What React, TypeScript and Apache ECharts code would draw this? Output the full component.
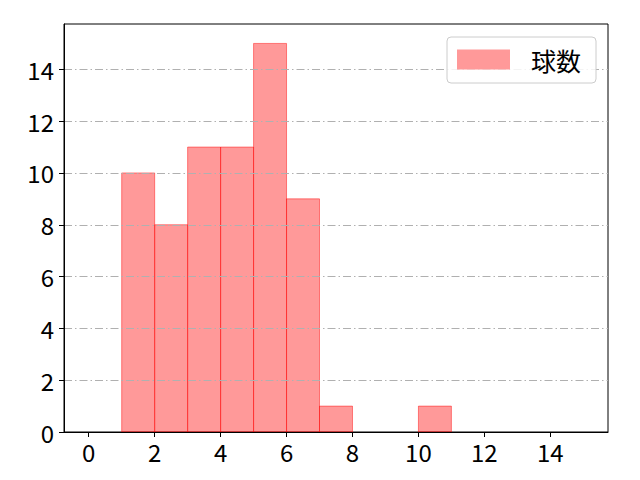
import React, { useEffect, useRef } from "react";
import * as echarts from "echarts";

const binStarts = [1, 2, 3, 4, 5, 6, 7, 10];
const binWidth = 1;
const counts = [10, 8, 11, 11, 15, 9, 1, 1];
const xTicks = [0, 2, 4, 6, 8, 10, 12, 14];
const yTicks = [0, 2, 4, 6, 8, 10, 12, 14];
const seriesName = "球数";

const FONT = "'Noto Sans CJK JP', 'Noto Sans', sans-serif";

export default function App() {
  const ref = useRef<HTMLDivElement>(null);
  useEffect(() => {
    if (!ref.current) return;
    const chart = echarts.init(ref.current, null, { renderer: "svg" });
    const data = binStarts.map((s, i) => [s, s + binWidth, counts[i]]);
    chart.setOption({
      animation: false,
      grid: {
        left: 64,
        top: 24,
        width: 544,
        height: 408,
        show: true,
        borderColor: "#000",
        borderWidth: 1,
        backgroundColor: "transparent",
      },
      legend: {
        left: 447,
        top: 37,
        z: 20,
        orient: "horizontal",
        itemWidth: 53,
        itemHeight: 20,
        padding: [10, 15, 11, 10],
        backgroundColor: "rgba(255,255,255,0.85)",
        borderColor: "#cccccc",
        borderWidth: 1,
        borderRadius: 4,
        icon: "rect",
        textStyle: {
          fontFamily: FONT,
          fontSize: 25,
          color: "#000",
          lineHeight: 24,
          padding: [0, 0, 0, 16],
        },
        data: [seriesName],
      },
      xAxis: {
        type: "value",
        min: -0.75,
        max: 15.75,
        z: 10,
        axisLine: { show: true, onZero: false, lineStyle: { color: "#000", width: 1 } },
        axisTick: {
          show: true,
          inside: false,
          length: 5,
          lineStyle: { color: "#000" },
          customValues: xTicks,
        },
        axisLabel: {
          customValues: xTicks,
          fontFamily: FONT,
          fontSize: 24,
          color: "#000",
          margin: 7,
        },
        splitLine: { show: false },
      },
      yAxis: {
        type: "value",
        min: 0,
        max: 15.75,
        z: 10,
        axisLine: { show: true, onZero: false, lineStyle: { color: "#000", width: 1 } },
        axisTick: {
          show: true,
          inside: false,
          length: 5,
          lineStyle: { color: "#000" },
          customValues: yTicks,
        },
        axisLabel: {
          customValues: yTicks,
          fontFamily: FONT,
          fontSize: 24,
          color: "#000",
          margin: 10,
        },
        splitLine: {
          show: true,
          lineStyle: { color: "#b0b0b0", width: 1, type: [8, 3, 1.5, 3] },
        },
      },
      series: [
        {
          name: seriesName,
          type: "custom",
          itemStyle: { color: "rgba(255,0,0,0.4)", borderColor: "rgba(255,0,0,0.45)" },
          renderItem: (params: any, api: any) => {
            const x0 = api.value(0);
            const x1 = api.value(1);
            const y = api.value(2);
            const p0 = api.coord([x0, y]);
            const p1 = api.coord([x1, 0]);
            return {
              type: "rect",
              shape: { x: p0[0], y: p0[1], width: p1[0] - p0[0], height: p1[1] - p0[1] },
              style: {
                fill: "rgba(255,0,0,0.4)",
                stroke: "rgba(255,0,0,0.45)",
                lineWidth: 1,
              },
            };
          },
          encode: { x: [0, 1], y: 2 },
          data,
        },
      ],
    });
    return () => chart.dispose();
  }, []);
  return (
    <div
      ref={ref}
      style={{ position: "fixed", left: 0, top: 0, width: 640, height: 480, background: "#fff" }}
    />
  );
}
